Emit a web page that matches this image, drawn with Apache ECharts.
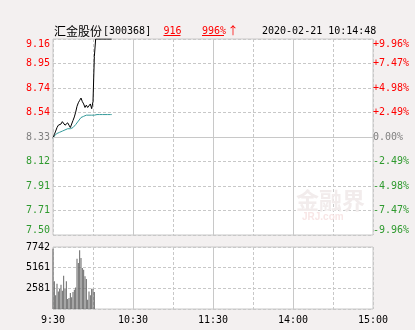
<!DOCTYPE html>
<html><head><meta charset="utf-8">
<script src="https://cdn.jsdelivr.net/npm/echarts@6/dist/echarts.min.js"></script>
<style>html,body{margin:0;padding:0;background:#f3f0f0;} #c{width:415px;height:330px;}</style>
</head><body><div id="c"></div>
<script>
// ---- data ----
const stockName = '汇金股份';
const stockCode = '[300368]';
const lastPrice = '916';
const changePct = '996%';
const changeArrow = '↑';
const timestamp = '2020-02-21 10:14:48';
const prevClose = 8.33;
const priceMin = 7.50;
const priceMax = 9.16;
const volMax = 7742;
const priceTickLabels = ['7.50','7.71','7.91','8.12','8.33','8.54','8.74','8.95','9.16'];
const pctTickLabels = ['-9.96%','-7.47%','-4.98%','-2.49%','0.00%','+2.49%','+4.98%','+7.47%','+9.96%'];
const volTickLabels = ['', '2581', '5161', '7742'];
const timeTickLabels = ['9:30', '', '10:30', '', '11:30', '', '14:00', '', '15:00'];
// minute-by-minute price from 9:30
const prices = [8.32,8.35,8.38,8.41,8.43,8.42,8.44,8.46,8.47,8.43,
                8.44,8.45,8.43,8.41,8.44,8.47,8.50,8.54,8.59,8.62,
                8.64,8.66,8.63,8.61,8.58,8.60,8.58,8.59,8.61,8.57,
                8.63,9.01,9.16,9.16,9.16,9.16,9.16,9.16,9.16,9.16,
                9.16,9.16,9.16,9.16,9.16];
const avgPrices = [8.32,8.34,8.35,8.36,8.365,8.37,8.375,8.38,8.385,8.39,
                   8.395,8.40,8.40,8.40,8.405,8.41,8.42,8.435,8.45,8.465,
                   8.48,8.495,8.50,8.505,8.51,8.515,8.515,8.515,8.515,8.515,
                   8.515,8.515,8.52,8.52,8.52,8.52,8.52,8.52,8.52,8.52,
                   8.52,8.52,8.52,8.52,8.52];
const volumes = [7530,3450,1710,3160,2200,2500,3040,2290,4160,2500,
                 3450,1250,1370,2000,1460,2120,2410,2700,6290,5740,
                 7330,6370,5120,4910,4080,3750,1170,2200,1710,2540,
                 2540,2120];

// ---- chart ----
const MONO = '"DejaVu Sans Mono", "Liberation Mono", monospace';
const CJK = '"Noto Sans CJK SC", sans-serif';
const GRID = '#c8c8c8';
const RED = '#ff0000', GREEN = '#2f9a2f', GRAY = '#808080';
const dash = {color: GRID, type: [3, 2], width: 1};
const colorByIdx = (i) => i < 4 ? GREEN : (i === 4 ? GRAY : RED);

const chart = echarts.init(document.getElementById('c'), null, {renderer: 'canvas'});
chart.setOption({
  animation: false,
  backgroundColor: '#f3f0f0',
  grid: [
    {left: 53, top: 39, width: 320, height: 196, show: true, backgroundColor: '#fff', borderColor: GRID, borderWidth: 1},
    {left: 53, top: 247, width: 320, height: 62, show: true, backgroundColor: '#fff', borderColor: GRID, borderWidth: 1}
  ],
  xAxis: [
    {gridIndex: 0, type: 'value', min: 0, max: 240, interval: 30,
     axisLine: {show: false}, axisTick: {show: false}, axisLabel: {show: false},
     splitLine: {show: true, lineStyle: dash}},
    {gridIndex: 1, type: 'value', min: 0, max: 240, interval: 30,
     axisLine: {show: false}, axisTick: {show: false},
     axisLabel: {show: true, color: '#000', fontFamily: MONO, fontSize: 10, margin: 6,
                 formatter: (v) => timeTickLabels[Math.round(v / 30)] || ''},
     splitLine: {show: true, lineStyle: dash}}
  ],
  yAxis: [
    {gridIndex: 0, type: 'category', data: priceTickLabels, boundaryGap: false, position: 'left',
     axisLine: {show: false}, axisTick: {show: false},
     axisLabel: {interval: 0, margin: 3, fontFamily: MONO, fontSize: 10,
                 color: (v, i) => colorByIdx(i),
                 verticalAlignMinLabel: 'bottom', verticalAlignMaxLabel: 'top'},
     splitLine: {show: true, interval: 0, lineStyle: dash}},
    {gridIndex: 0, type: 'category', data: pctTickLabels, boundaryGap: false, position: 'right',
     axisLine: {show: false}, axisTick: {show: false},
     axisLabel: {interval: 0, margin: 0, fontFamily: MONO, fontSize: 10,
                 color: (v, i) => colorByIdx(i),
                 verticalAlignMinLabel: 'bottom', verticalAlignMaxLabel: 'top'},
     splitLine: {show: false}},
    {gridIndex: 0, type: 'value', min: priceMin, max: priceMax, show: false, splitLine: {show: false}},
    {gridIndex: 1, type: 'value', min: 0, max: volMax, interval: volMax / 3,
     axisLine: {show: false}, axisTick: {show: false},
     axisLabel: {margin: 3, fontFamily: MONO, fontSize: 10, color: '#000',
                 formatter: (v) => volTickLabels[Math.round(v / (volMax / 3))] || ''},
     splitLine: {show: true, lineStyle: dash}}
  ],
  graphic: [
    {type: 'text', x: 296, y: 200, z: 1, silent: true,
     style: {text: '金融界', font: 'bold 23px ' + CJK, fill: '#f2ecec', verticalAlign: 'middle'}},
    {type: 'text', x: 302, y: 217, z: 1, silent: true,
     style: {text: 'JRJ.com', font: 'bold 10px sans-serif', fill: '#f8e6e6', verticalAlign: 'middle'}},
    {type: 'text', x: 54, y: 31.5, style: {text: stockName, font: '12px ' + CJK, fill: '#000', verticalAlign: 'middle'}},
    {type: 'text', x: 103, y: 31.5, style: {text: stockCode, font: '10px ' + MONO, fill: '#000', verticalAlign: 'middle'}},
    {type: 'text', x: 163.5, y: 31.5, style: {text: lastPrice, font: '10px ' + MONO, fill: RED, verticalAlign: 'middle'}},
    {type: 'line', shape: {x1: 163.5, y1: 35.5, x2: 180.5, y2: 35.5}, style: {stroke: RED, lineWidth: 1}},
    {type: 'text', x: 202, y: 31.5, style: {text: changePct, font: '10px ' + MONO, fill: RED, verticalAlign: 'middle'}},
    {type: 'text', x: 227.5, y: 31, style: {text: changeArrow, font: '11px ' + CJK, fill: RED, verticalAlign: 'middle'}},
    {type: 'line', shape: {x1: 202, y1: 35.5, x2: 224, y2: 35.5}, style: {stroke: RED, lineWidth: 1}},
    {type: 'text', x: 262, y: 31.5, style: {text: timestamp, font: '10px ' + MONO, fill: '#000', verticalAlign: 'middle'}}
  ],
  series: [
    {type: 'line', xAxisIndex: 0, yAxisIndex: 2, showSymbol: false, symbol: 'none',
     data: avgPrices.map((p, i) => [i, p]),
     lineStyle: {color: '#349a9a', width: 1}, z: 3},
    {type: 'line', xAxisIndex: 0, yAxisIndex: 2, showSymbol: false, symbol: 'none',
     data: prices.map((p, i) => [i, p]),
     lineStyle: {color: '#000', width: 1}, z: 4,
     markLine: {silent: true, symbol: 'none', label: {show: false},
                lineStyle: {color: GRID, type: 'solid', width: 1},
                data: [{yAxis: prevClose}, {xAxis: 60}, {xAxis: 120}, {xAxis: 180}]}},
    {type: 'bar', xAxisIndex: 1, yAxisIndex: 3, barWidth: 1,
     data: volumes.map((v, i) => [i, v]),
     itemStyle: {color: '#666666'},
     markLine: {silent: true, symbol: 'none', label: {show: false},
                lineStyle: {color: GRID, type: 'solid', width: 1},
                data: [{xAxis: 60}, {xAxis: 120}, {xAxis: 180}]}}
  ]
});
</script></body></html>
